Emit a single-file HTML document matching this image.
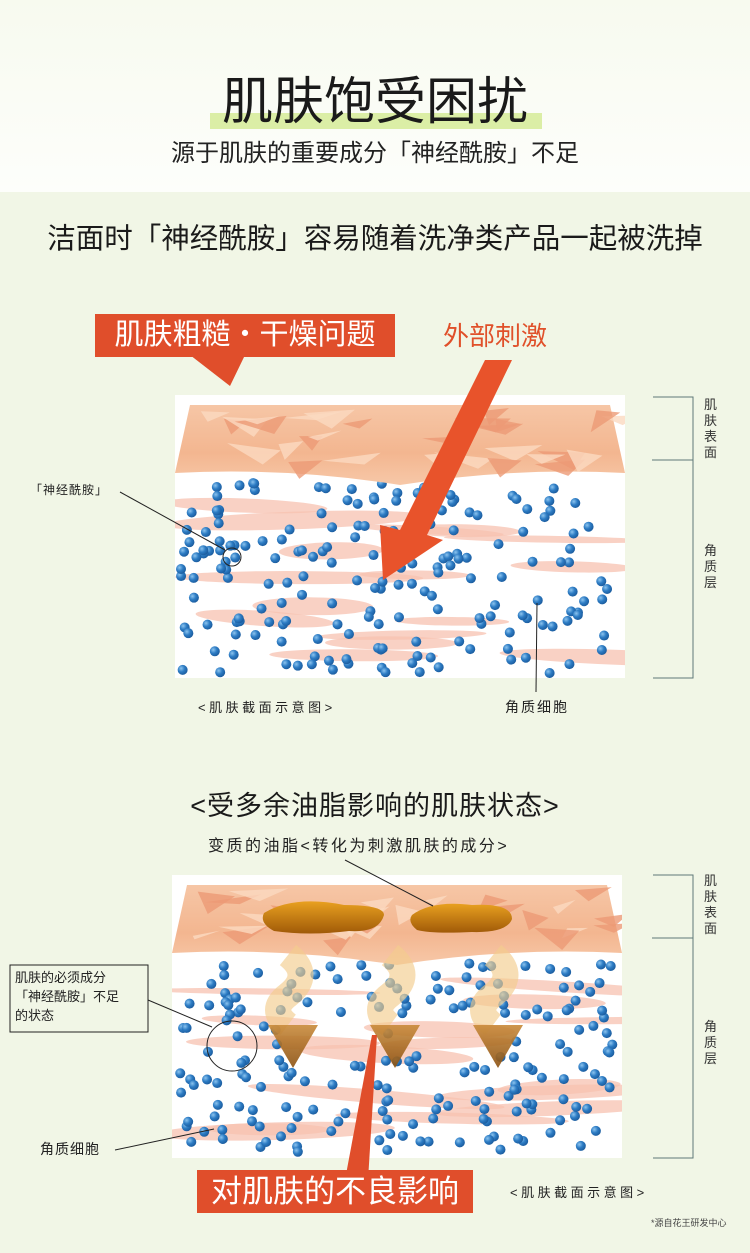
<!DOCTYPE html>
<html><head><meta charset="utf-8"><style>
html,body{margin:0;padding:0}
body{width:750px;height:1253px;position:relative;overflow:hidden;background:#f1f6e6;font-family:"Liberation Sans","Noto Sans CJK SC",sans-serif;color:#222}
.a{position:absolute;white-space:nowrap}
.top{position:absolute;left:0;top:0;width:750px;height:192px;background:linear-gradient(#f7faef,#fdfefb)}
.vt{position:absolute;font-size:13px;line-height:16px;width:14px;color:#333}
</style></head><body>
<div class="top"></div>
<div class="a" style="left:210px;top:113px;width:332px;height:16px;background:#dbeea6"></div>
<div class="a" style="left:0;top:72px;width:750px;text-align:center;font-size:51px;line-height:60px;color:#1a1a1a">肌肤饱受困扰</div>
<div class="a" style="left:0;top:139px;width:750px;text-align:center;font-size:24px;line-height:30px;color:#222">源于肌肤的重要成分「神经酰胺」不足</div>
<div class="a" style="left:0;top:221px;width:750px;text-align:center;font-size:28.5px;line-height:36px;color:#1a1a1a">洁面时「神经酰胺」容易随着洗净类产品一起被洗掉</div>

<svg class="a" style="left:0;top:0" width="750" height="1253" id="s">
<defs>
<radialGradient id="dot" cx="0.35" cy="0.35" r="0.7"><stop offset="0" stop-color="#8cc4ef"/><stop offset="0.5" stop-color="#2d7cc4"/><stop offset="1" stop-color="#1a5a9c"/></radialGradient>
<linearGradient id="skin" x1="0" y1="0" x2="0" y2="1"><stop offset="0" stop-color="#f6c6a6"/><stop offset="0.6" stop-color="#f3b690"/><stop offset="1" stop-color="#f7c8a8"/></linearGradient>
<linearGradient id="oil" x1="0" y1="0" x2="0" y2="1"><stop offset="0" stop-color="#e8a020"/><stop offset="1" stop-color="#a05a08"/></linearGradient>
<linearGradient id="arr" x1="0" y1="0" x2="0" y2="1"><stop offset="0" stop-color="#c98a3a"/><stop offset="1" stop-color="#8a5010"/></linearGradient>
<clipPath id="c1"><rect x="175" y="395" width="450" height="283"/></clipPath>
<clipPath id="c2"><rect x="172" y="875" width="450" height="283"/></clipPath>
</defs>
<g id="img1" clip-path="url(#c1)"></g>
<g id="img2" clip-path="url(#c2)"></g>
</svg>

<svg class="a" style="left:0;top:0" width="750" height="1253">
<polygon points="190,355 230,386 245,355" fill="#e04e2b"/>
<rect x="95" y="314" width="300" height="43" fill="#e04e2b"/>
<polygon points="485,360 512,360 427,535 443,540 383,580 380,525 400,530" fill="#e8532b"/>
<g stroke="#607878" stroke-width="1" fill="none">
<polyline points="653,397 693,397 693,678 653,678"/><line x1="652" y1="460" x2="693" y2="460"/>
<polyline points="653,875 693,875 693,1158 653,1158"/><line x1="652" y1="938" x2="693" y2="938"/>
</g>
<g stroke="#222" stroke-width="1" fill="none">
<line x1="120" y1="492" x2="225" y2="550"/>
<circle cx="232" cy="557" r="9"/>
<line x1="537" y1="603" x2="536" y2="692"/>
<line x1="345" y1="860" x2="433" y2="906"/>
<line x1="148" y1="1000" x2="212" y2="1027"/>
<circle cx="232" cy="1046" r="25"/>
<line x1="115" y1="1150" x2="214" y2="1129"/>
<rect x="10" y="965" width="138" height="67"/>
</g>
<polygon points="372,1035 377,1035 368,1180 345,1180" fill="#e04e2b"/>
<rect x="197" y="1170" width="276" height="43" fill="#e04e2b"/>
</svg>

<div class="a" style="left:95px;top:314px;width:300px;text-align:center;font-size:29px;line-height:43px;color:#fff">肌肤粗糙・干燥问题</div>
<div class="a" style="left:443px;top:319px;font-size:26px;line-height:34px;color:#e0502a">外部刺激</div>
<div class="a" style="left:30px;top:481px;font-size:12px;letter-spacing:1px;color:#222">「神经酰胺」</div>
<div class="a" style="left:198px;top:697px;font-size:13px;letter-spacing:3.5px;color:#222">&lt;肌肤截面示意图&gt;</div>
<div class="a" style="left:505px;top:697px;font-size:14px;letter-spacing:2px;color:#222">角质细胞</div>
<div class="vt" style="left:704px;top:397px">肌肤表面</div>
<div class="vt" style="left:704px;top:543px">角质层</div>
<div class="vt" style="left:704px;top:873px">肌肤表面</div>
<div class="vt" style="left:704px;top:1019px">角质层</div>

<div class="a" style="left:0;top:788px;width:750px;text-align:center;font-size:27px;line-height:36px;letter-spacing:1px;color:#1a1a1a">&lt;受多余油脂影响的肌肤状态&gt;</div>
<div class="a" style="left:208px;top:832px;font-size:16px;letter-spacing:2.5px;color:#222">变质的油脂&lt;转化为刺激肌肤的成分&gt;</div>
<div class="a" style="left:15px;top:968px;font-size:13px;line-height:19px;color:#222">肌肤的必须成分<br>「神经酰胺」不足<br>的状态</div>
<div class="a" style="left:40px;top:1139px;font-size:14px;letter-spacing:1px;color:#222">角质细胞</div>
<div class="a" style="left:197px;top:1170px;width:276px;text-align:center;font-size:31px;line-height:43px;color:#fff">对肌肤的不良影响</div>
<div class="a" style="left:510px;top:1182px;font-size:13px;letter-spacing:3.5px;color:#222">&lt;肌肤截面示意图&gt;</div>
<div class="a" style="left:651px;top:1216px;font-size:9px;color:#444">*源自花王研发中心</div>

<script>
var NS="http://www.w3.org/2000/svg";
function el(p,t,a){var e=document.createElementNS(NS,t);for(var k in a)e.setAttribute(k,a[k]);p.appendChild(e);return e;}
var seed=7;function r(){seed=(seed*9301+49297)%233280;return seed/233280;}
function img(g,x,y,w,h,oil){
 el(g,'rect',{x:x,y:y,width:w,height:h,fill:'#fff'});
 for(var i=0;i<16;i++){var sy=y+95+r()*(h-110),sx=x-30+r()*w*0.85,sw=90+r()*180;
  el(g,'ellipse',{cx:sx+sw/2,cy:sy,rx:sw/2,ry:3+r()*6,fill:'#f7c2b0',opacity:0.75,transform:'rotate('+(r()*8-3)+' '+(sx+sw/2)+' '+sy+')'});}
 for(var i=0;i<190;i++){var dx=x+6+r()*(w-12),dy=y+88+r()*(h-92);
  el(g,'circle',{cx:dx,cy:dy,r:5,fill:'url(#dot)'});}
 el(g,'path',{d:'M'+x+' '+(y+78)+' L'+(x+15)+' '+(y+10)+' L'+(x+w-15)+' '+(y+10)+' L'+(x+w)+' '+(y+78)+' Q'+(x+w*0.75)+' '+(y+72)+' '+(x+w/2)+' '+(y+90)+' Q'+(x+w*0.25)+' '+(y+72)+' '+x+' '+(y+78)+'Z',fill:'url(#skin)'});
 for(var i=0;i<30;i++){var px=x+20+r()*(w-40),py=y+15+r()*55;
  el(g,'path',{d:'M'+px+' '+py+' l'+(20+r()*40)+' '+(r()*16-8)+' l'+(-10-r()*20)+' '+(8+r()*12)+'Z',fill:(i%2?'#fbd9c0':'#ec9a76'),opacity:0.8});}
 if(oil){
  el(g,'path',{d:'M'+(x+92)+' '+(y+38)+' q30,-18 80,-8 q40,0 40,10 q-5,18 -35,16 q-40,5 -75,0 q-15,-8 -10,-18Z',fill:'url(#oil)'});
  el(g,'path',{d:'M'+(x+240)+' '+(y+40)+' q20,-15 60,-10 q40,-2 40,14 q-5,14 -40,13 q-40,2 -55,-2 q-10,-8 -5,-15Z',fill:'url(#oil)'});
  [293,395,498].forEach(function(X){
   el(g,'path',{d:'M'+(X-5)+' 955 q25,20 0,40 q-20,15 0,30',fill:'none',stroke:'#f3cc8e','stroke-width':26,opacity:0.65});
   el(g,'polygon',{points:(X-25)+',1025 '+(X+25)+',1025 '+X+',1068',fill:'url(#arr)',opacity:0.9});});
 }
}
img(document.getElementById('img1'),175,395,450,283,false);
img(document.getElementById('img2'),172,875,450,283,true);
</script>
</body></html>
